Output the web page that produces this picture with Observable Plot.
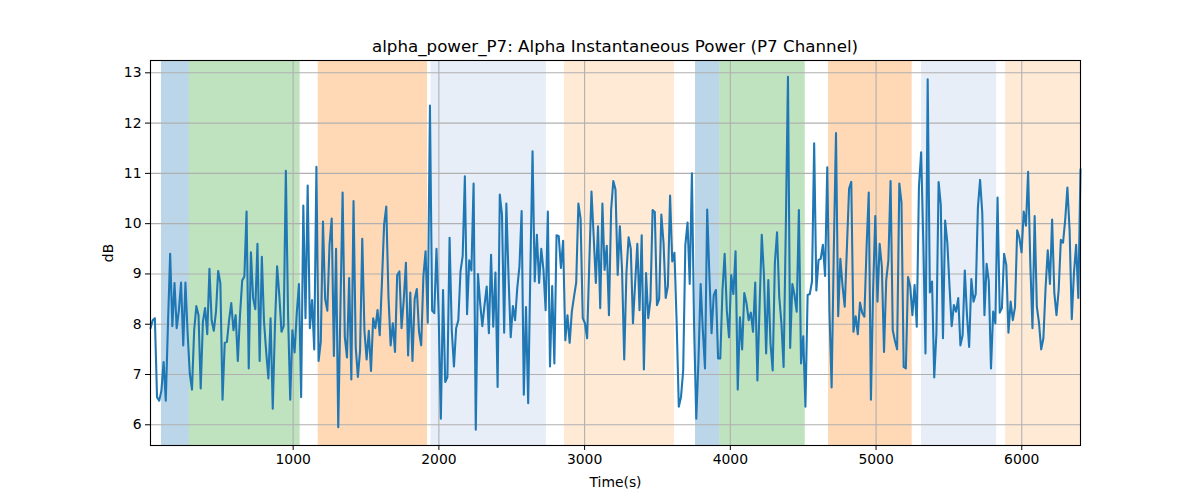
<!DOCTYPE html>
<html>
<head>
<meta charset="utf-8">
<script src="https://cdn.jsdelivr.net/npm/d3@7"></script>
<script src="https://cdn.jsdelivr.net/npm/@observablehq/plot@0.6"></script>
<style>
  html, body { margin: 0; padding: 0; background: white; }
  #wrap { position: relative; width: 1200px; height: 500px; font-family: "DejaVu Sans", sans-serif; }
  #title { position: absolute; left: 30px; right: 0; top: 36px; line-height: 20px; text-align: center; font-size: 16.7px; color: black; z-index: 2; }
  #chart { position: absolute; left: 0; top: 50px; z-index: 1; }
</style>
</head>
<body>
<div id="wrap">
  <div id="chart"></div>
  <div id="title">alpha_power_P7: Alpha Instantaneous Power (P7 Channel)</div>
</div>
<script>
// Time range of the recording (s)
const tStart = 21;
const tEnd = 6403;

// Alpha power values (dB), sampled at a regular interval from tStart to tEnd
const power = [
  7.92, 8.08, 8.12, 6.55, 6.48, 6.68, 7.25, 6.48, 8.0, 9.4,
  7.96, 8.82, 7.92, 8.28, 8.83, 7.58, 8.83, 7.82, 7.02, 6.7,
  7.88, 8.36, 8.18, 6.72, 8.05, 8.32, 7.8, 9.1, 8.08, 7.87,
  8.25, 9.06, 8.82, 6.5, 7.63, 7.65, 8.08, 8.42, 7.88, 8.18,
  7.27, 8.18, 8.87, 8.95, 10.24, 7.12, 9.43, 8.52, 8.3, 9.6,
  7.27, 9.34, 8.05, 7.45, 6.92, 8.12, 6.32, 7.95, 9.15, 8.58,
  7.85, 7.96, 11.05, 8.22, 6.5, 7.88, 7.44, 8.22, 8.8, 6.55,
  10.36, 8.12, 10.76, 7.92,
  8.48, 7.5, 11.13, 7.27, 7.65, 10.04, 8.5, 8.27, 9.58, 10.1,
  7.37, 9.5, 5.95, 8.32, 10.62, 7.75, 7.34, 8.92, 6.9, 10.45,
  7.55, 6.95, 7.48, 9.7, 7.87, 7.3, 7.87, 7.07, 8.12, 7.92,
  8.28, 7.78, 8.82, 9.98, 10.34, 8.55, 7.58, 8.02, 7.45, 8.98,
  9.05, 7.92, 8.48, 9.22, 7.38, 8.63, 7.27, 8.5, 8.7, 7.85,
  7.58, 8.95, 9.45, 8.03, 12.35, 8.27, 8.22, 9.5, 8.18, 6.12,
  8.68, 6.85, 6.95, 9.72, 7.88, 7.16, 7.92, 8.08, 9.05, 9.36,
  10.94,
  8.2, 9.27, 9.07, 10.8, 5.9, 9.0, 8.42, 7.96, 8.38, 8.75,
  7.82, 9.38, 7.95, 9.03, 6.75, 10.58, 10.18, 7.83, 10.4, 8.95,
  7.74, 8.36, 8.08, 8.72, 9.15, 10.25, 6.6, 8.34, 6.43, 9.08,
  11.44, 8.85, 9.78, 8.82, 9.5, 9.08, 8.28, 10.24, 7.16, 8.76,
  7.22, 9.77, 9.75, 9.12, 9.66, 7.68, 8.18, 7.63, 8.25, 8.55,
  8.83, 10.4, 10.1, 8.12, 8.02, 7.72, 9.22, 10.64, 9.75, 8.82,
  9.95, 8.32, 10.4, 9.08, 9.56, 8.18, 10.28, 10.85, 10.68, 8.98,
  9.95,
  9.08, 7.3, 9.02, 9.73, 9.5, 8.02, 8.82, 9.6, 8.28, 9.77,
  7.1, 9.02, 8.12, 8.48, 10.27, 10.23, 8.38, 8.5, 10.18, 9.62,
  8.52, 8.76, 10.56, 9.25, 9.42, 8.05, 6.36, 6.55, 7.08, 9.58,
  10.02, 8.8, 11.0, 7.95, 6.12, 7.28, 8.8, 7.88, 7.12, 10.28,
  8.98, 7.82, 8.58, 8.68, 7.32, 7.32, 8.68, 9.4, 8.27, 7.74,
  8.98, 8.6, 9.45, 6.7, 8.14, 7.5, 8.62, 8.42, 8.08, 8.23,
  7.85, 8.83, 6.88, 8.36, 9.78, 8.98, 7.42, 8.88, 7.62, 7.08,
  9.22,
  9.83, 8.55, 8.02, 7.15, 9.88, 12.92, 7.53, 8.8, 8.58, 8.25,
  10.27, 7.22, 7.76, 6.36, 8.58, 8.6, 8.85, 11.6, 8.67, 9.28,
  9.3, 9.58, 8.96, 11.12, 8.25, 6.74, 9.48, 11.8, 8.16, 9.3,
  8.76, 8.35, 9.52, 10.7, 10.83, 7.85, 8.16, 7.8, 8.43, 8.23,
  8.15, 9.52, 10.62, 6.5, 8.67, 10.15, 8.45, 9.6, 9.15, 7.45,
  8.87, 9.27, 10.85, 7.88, 7.67, 7.5, 10.8, 10.42, 7.15, 7.12,
  8.94, 8.75, 8.18, 8.78, 7.95, 10.74, 11.42, 9.62, 7.42, 12.87,
  8.63,
  8.85, 6.94, 7.82, 10.83, 10.38, 7.72, 10.06, 9.62, 8.75, 7.96,
  8.38, 8.25, 8.52, 7.58, 7.78, 9.07, 8.18, 7.55, 8.9, 8.45,
  8.6, 10.32, 10.87, 10.22, 8.18, 9.2, 8.85, 7.12, 8.25, 8.02,
  10.52, 8.23, 8.32, 9.4, 9.18, 7.83, 8.45, 8.08, 8.34, 9.87,
  9.72, 9.43, 10.24, 9.96, 11.03, 9.22, 7.92, 10.15, 8.35, 8.02,
  7.5, 7.72, 8.72, 9.47, 8.8, 10.08, 8.63, 8.18, 8.68, 9.68,
  9.62, 10.08, 10.72, 9.88, 8.1, 9.02, 9.58, 8.52, 11.08
];

// Shaded condition periods (s)
const bandStart = [96, 288, 1172, 1946, 2862, 3761, 3928, 4674, 5312, 5889];
const bandEnd   = [288, 1048, 1922, 2738, 3617, 3928, 4514, 5248, 5827, 6460];
const bandColor = ["#1f77b4", "#2ca02c", "#ff7f0e", "#aec7e8", "#ffbb78",
                   "#1f77b4", "#2ca02c", "#ff7f0e", "#aec7e8", "#ffbb78"];

// Axis ticks
const xTicks = [1000, 2000, 3000, 4000, 5000, 6000];
const yTicks = [6, 7, 8, 9, 10, 11, 12, 13];

const step = (tEnd - tStart) / (power.length - 1);
const series = power.map((v, i) => ({t: tStart + i * step, v}));
const bands = bandStart.map((s, i) => ({x1: s, x2: bandEnd[i], c: bandColor[i]}));

const chart = Plot.plot({
  width: 1200,
  height: 450,
  marginTop: 10,
  marginBottom: 55,
  marginLeft: 150,
  marginRight: 120,
  style: {fontFamily: "DejaVu Sans, sans-serif", fontSize: "13.9px", color: "black", background: "transparent"},
  x: {domain: [tStart, tEnd]},
  y: {domain: [5.588, 13.245]},
  marks: [
    Plot.rect(bands, {x1: "x1", x2: "x2", fill: "c", fillOpacity: 0.3, clip: true}),
    Plot.gridX(xTicks, {stroke: "#b0b0b0", strokeOpacity: 1, strokeWidth: 1.1}),
    Plot.gridY(yTicks, {stroke: "#b0b0b0", strokeOpacity: 1, strokeWidth: 1.1}),
    Plot.line(series, {x: "t", y: "v", stroke: "#1f77b4", strokeWidth: 2.08, strokeLinejoin: "round"}),
    Plot.frame({stroke: "black", strokeWidth: 1.1}),
    Plot.axisX({ticks: xTicks, tickFormat: d => String(d), tickSize: 5, tickPadding: 4,
      label: "Time(s)", labelAnchor: "center", labelArrow: "none", labelOffset: 41}),
    Plot.axisY({ticks: yTicks, tickFormat: d => String(d), tickSize: 5, tickPadding: 4,
      label: "dB", labelAnchor: "center", labelArrow: "none", labelOffset: 47})
  ]
});
document.getElementById("chart").appendChild(chart);
</script>
</body>
</html>
